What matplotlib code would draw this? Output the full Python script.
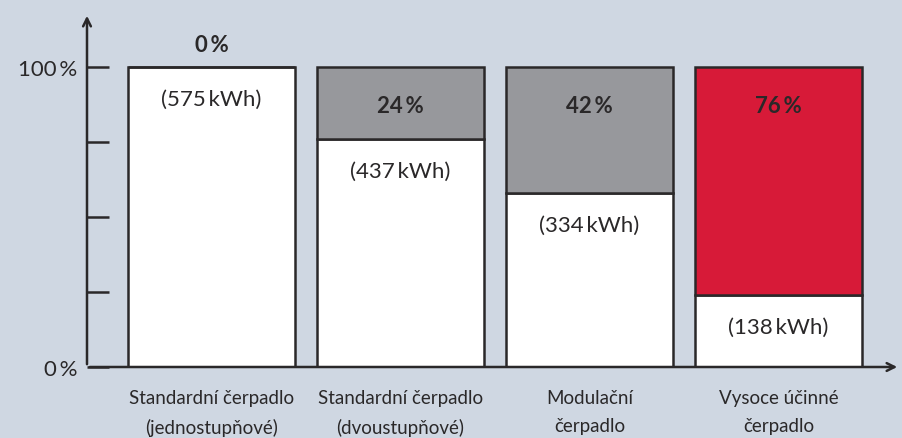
import matplotlib
matplotlib.use("Agg")
import matplotlib.pyplot as plt

plt.rcParams["font.family"] = ["Lato", "DejaVu Sans"]

# data
categories = [
    "Standardní čerpadlo\n(jednostupňové)",
    "Standardní čerpadlo\n(dvoustupňové)",
    "Modulační\nčerpadlo",
    "Vysoce účinné\nčerpadlo",
]
consumption_kwh = [575, 437, 334, 138]
savings_pct = [0, 24, 42, 76]
remaining_pct = [100 - s for s in savings_pct]
savings_colors = ["#ffffff", "#97989c", "#97989c", "#d71a38"]

BG = "#cfd7e2"
INK = "#2a2829"

fig = plt.figure(figsize=(9.02, 4.39), dpi=100)
fig.patch.set_facecolor(BG)
# axes: left edge at 87px, bottom at 368px, top at 14px, right at 900px
ax = fig.add_axes([87 / 902, 71 / 439, 813 / 902, 354 / 439])
ax.set_facecolor(BG)
ax.set_xlim(-0.659, 3.643)
ax.set_ylim(0, 118)

x = range(len(categories))
width = 0.884
ax.bar(x, remaining_pct, width=width, color="white", edgecolor=INK, linewidth=1.8, zorder=3)
ax.bar(x, savings_pct, width=width, bottom=remaining_pct, color=savings_colors,
       edgecolor=INK, linewidth=1.8, zorder=3)

for i, (kwh, s, r) in enumerate(zip(consumption_kwh, savings_pct, remaining_pct)):
    if s == 0:
        ax.annotate(f"{s}\u2009%", (i, 100), xytext=(0, 16), textcoords="offset points",
                    ha="center", va="center", fontsize=16, fontweight="bold", color=INK)
    else:
        ax.annotate(f"{s}\u2009%", (i, 100), xytext=(0, -28), textcoords="offset points",
                    ha="center", va="center", fontsize=16, fontweight="bold", color=INK)
    ax.annotate(f"({kwh}\u2009kWh)", (i, r), xytext=(0, -23), textcoords="offset points",
                ha="center", va="center", fontsize=16, color=INK)

# axes with arrows
for side in ["top", "right", "left", "bottom"]:
    ax.spines[side].set_visible(False)
ax.annotate("", xy=(0, 1), xytext=(0, 0), xycoords="axes fraction",
            arrowprops=dict(arrowstyle="->", color=INK, lw=1.8, mutation_scale=14))
ax.annotate("", xy=(1, 0), xytext=(0, 0), xycoords="axes fraction",
            arrowprops=dict(arrowstyle="->", color=INK, lw=1.8, mutation_scale=14))

ax.set_yticks([0, 25, 50, 75, 100])
ax.set_yticklabels(["0\u2009%", "", "", "", "100\u2009%"], fontsize=16, color=INK)
ax.tick_params(axis="y", direction="in", length=16, width=1.8, color=INK, pad=7)

ax.set_xticks(list(x))
ax.set_xticklabels(categories, fontsize=13.5, color=INK, linespacing=1.75)
ax.tick_params(axis="x", length=0, pad=16)

fig.savefig("out.png", dpi=100, facecolor=BG)
